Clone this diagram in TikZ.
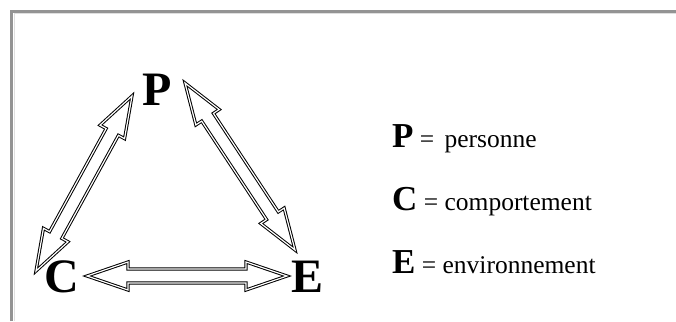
\documentclass[tikz,border=0pt]{standalone}
\usepackage{fontspec}
\setmainfont{Liberation Serif}
\usetikzlibrary{calc}
\tikzset{
  arrowline/.style={draw=black, line width=1pt, double=white, double distance=1.2pt, line join=miter},
  bigletter/.style={font=\fontsize{48}{48}\selectfont\bfseries, inner sep=0pt, anchor=base west},
  legendtext/.style={font=\fontsize{25.5}{26}\selectfont, inner sep=0pt, anchor=base west},
  frameline/.style={draw=gray!85, line width=2.2pt},
  frameinner/.style={draw=gray!25, line width=1pt}
}
\newcommand{\dblarr}[2]{%
  \draw[arrowline] (#1)
    -- ($(#1)!41pt!(#2)!14pt!90:(#2)$)
    -- ($(#1)!41pt!(#2)!7pt!90:(#2)$)
    -- ($(#2)!41pt!(#1)!7pt!-90:(#1)$)
    -- ($(#2)!41pt!(#1)!14pt!-90:(#1)$)
    -- (#2)
    -- ($(#2)!41pt!(#1)!14pt!90:(#1)$)
    -- ($(#2)!41pt!(#1)!7pt!90:(#1)$)
    -- ($(#1)!41pt!(#2)!7pt!-90:(#2)$)
    -- ($(#1)!41pt!(#2)!14pt!-90:(#2)$)
    -- cycle;}
\begin{document}
\begin{tikzpicture}[x=1pt, y=-1pt]
  \useasboundingbox (0,0) rectangle (676,321);
  % frame
  \coordinate (fbl) at (11.5,321);
  \coordinate (ftl) at (11.5,11.5);
  \coordinate (ftr) at (676,11.5);
  \coordinate (ibl) at (14,321);
  \coordinate (itl) at (14,14);
  \coordinate (itr) at (676,14);
  \draw[frameinner] (ibl) -- (itl) -- (itr);
  \draw[frameline] (fbl) -- (ftl) -- (ftr);
  % big letters
  \node[bigletter] (P) at (142,105) {P};
  \node[bigletter] (C) at (44,292) {C};
  \node[bigletter] (E) at (291,292) {E};
  % arrow ends
  \coordinate (cp1) at (36,271);
  \coordinate (cp2) at (132,96);
  \coordinate (pe1) at (185,83);
  \coordinate (pe2) at (295,250);
  \coordinate (ce1) at (87,276);
  \coordinate (ce2) at (287,276);
  \dblarr{cp1}{cp2}
  \dblarr{pe1}{pe2}
  \dblarr{ce1}{ce2}
  % legend
  \node[legendtext] (lp) at (392,147) {{\fontsize{35}{35}\selectfont\bfseries P} =\hspace{0.4em}personne};
  \node[legendtext] (lc) at (392,210) {{\fontsize{35}{35}\selectfont\bfseries C} = comportement};
  \node[legendtext] (le) at (392,273) {{\fontsize{35}{35}\selectfont\bfseries E} = environnement};
\end{tikzpicture}
\end{document}
